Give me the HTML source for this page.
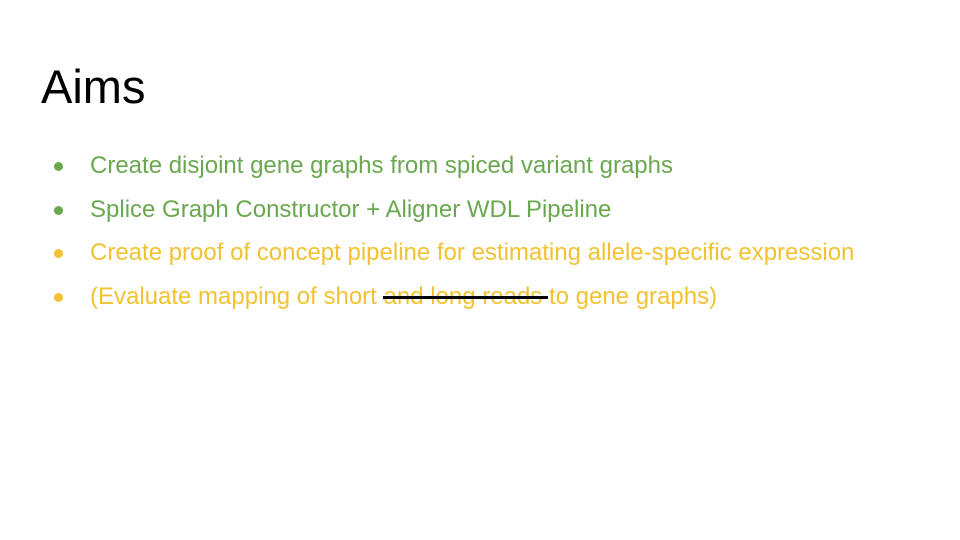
<!DOCTYPE html>
<html><head><meta charset="utf-8"><style>
body{margin:0;width:960px;height:540px;background:#fff;position:relative;overflow:hidden;font-family:"Liberation Sans",Arial,sans-serif}
h1{position:absolute;left:41px;top:58px;margin:0;font-weight:normal;font-size:47px;line-height:58px;color:#000}
.item{position:absolute;left:0;font-size:24px;line-height:28px;white-space:nowrap}
.dot{position:absolute;left:54px;top:10px;width:9px;height:9px;border-radius:50%}
.txt{position:absolute;left:90px;top:0}
.g{color:#6aa84f}.g .dot{background:#6aa84f}
.y{color:#f1c232}.y .dot{background:#f1c232}
.strike{position:absolute;left:383px;top:296px;width:165px;height:3px;background:#000}
</style></head><body>
<h1>Aims</h1>
<div class="item g" style="top:152px"><span class="dot"></span><span class="txt">Create disjoint gene graphs from spiced variant graphs</span></div>
<div class="item g" style="top:196px"><span class="dot"></span><span class="txt">Splice Graph Constructor + Aligner WDL Pipeline</span></div>
<div class="item y" style="top:239px"><span class="dot"></span><span class="txt">Create proof of concept pipeline for estimating allele-specific expression</span></div>
<div class="item y" style="top:283px"><span class="dot"></span><span class="txt">(Evaluate mapping of short and long reads to gene graphs)</span></div>
<div class="strike"></div>
</body></html>
